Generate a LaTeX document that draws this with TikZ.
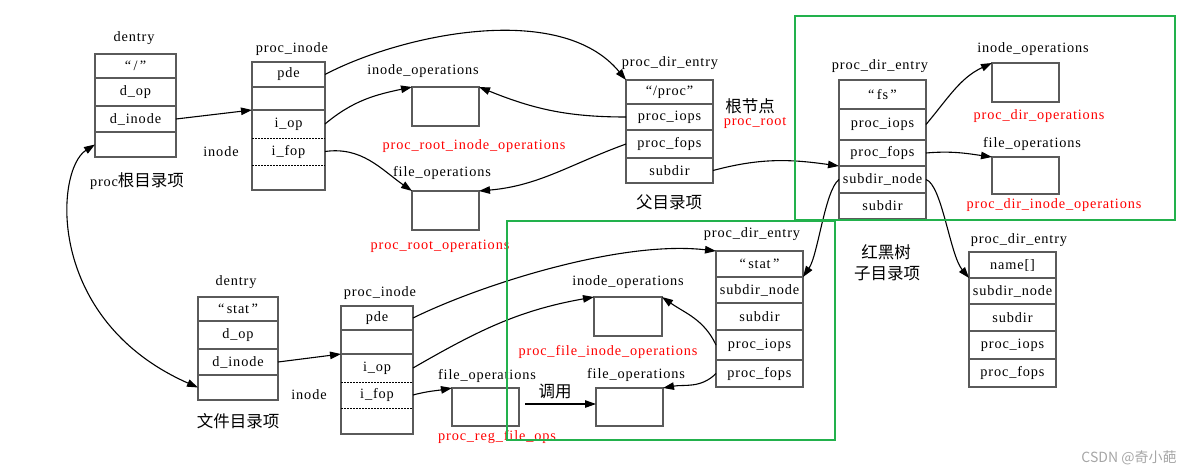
\documentclass[tikz,border=0pt]{standalone}
\usepackage{fontspec}
\setmainfont{Liberation Serif}[LetterSpace=6]
\newfontfamily\cjk{Noto Sans CJK SC}
\usetikzlibrary{arrows.meta}
\definecolor{linegray}{RGB}{90,90,90}
\definecolor{paintgreen}{RGB}{34,177,76}
\newcommand\mkcell[7][cellbox]{\node[#1, minimum width={#4pt-#3pt}, minimum height={#6pt-#5pt}] (#2) at ({(#3+#4)/2},{(#5+#6)/2}) {#7};}
\tikzset{
  every node/.style={font=\fontsize{14.3}{16}\selectfont},
  cellbox/.style={draw=linegray, line width=1.1pt, inner sep=0pt, outer sep=0pt},
  cellnd/.style={inner sep=0pt, outer sep=0pt},
  frame/.style={draw=linegray, line width=1.1pt},
  dotline/.style={draw=black, line width=1pt, dash pattern=on 1.5pt off 1.5pt},
  lbl/.style={inner sep=1pt},
  redlbl/.style={inner sep=1pt, text=red},
  cjklbl/.style={inner sep=1pt, font=\cjk\fontsize{16.5}{18}\selectfont},
  arr/.style={-{Triangle[length=11pt,width=7.5pt]}, line width=1.1pt, black},
  biarr/.style={{Triangle[length=11pt,width=7.5pt]}-{Triangle[length=11pt,width=7.5pt]}, line width=1.1pt, black},
  greenbox/.style={draw=paintgreen, line width=2pt}
}
\begin{document}
\begin{tikzpicture}[x=1pt,y=-1pt]
\useasboundingbox (0,0) rectangle (1194,474);
% ---------- top-left dentry
\mkcell{d1a}{95}{176}{54}{78}{“\,/\,”}
\mkcell{d1b}{95}{176}{78}{106}{d\_op}
\mkcell{d1c}{95}{176}{106}{132}{d\_inode}
\mkcell{d1d}{95}{176}{132}{157}{}
\node[lbl] (d1t) at (134,38) {dentry};
\node[lbl] (d1n) at (137,181) {proc{\cjk\fontsize{16.5}{18}\selectfont 根目录项}};
% ---------- top proc_inode
\mkcell[cellnd]{p1a}{252}{325}{62}{87}{pde}
\mkcell[cellnd]{p1b}{252}{325}{87}{110}{}
\mkcell[cellnd]{p1c}{252}{325}{110}{138}{i\_op}
\mkcell[cellnd]{p1d}{252}{325}{138}{165}{i\_fop}
\mkcell[cellnd]{p1e}{252}{325}{165}{190}{}
\draw[frame] (p1a.north west) rectangle (p1e.south east);
\draw[frame] (p1a.south west) -- (p1a.south east);
\draw[frame] (p1b.south west) -- (p1b.south east);
\draw[dotline] (p1c.south west) -- (p1c.south east);
\draw[dotline] (p1d.south west) -- (p1d.south east);
\node[lbl] (p1t) at (292,49) {proc\_inode};
\node[lbl] (p1n) at (221,152) {inode};
% ---------- top ops boxes
\mkcell{io1}{412}{479}{87}{126}{}
\mkcell{fo1}{412}{479}{191}{230}{}
\node[lbl] (io1t) at (423,71) {inode\_operations};
\node[redlbl] (io1n) at (474,146) {proc\_root\_inode\_operations};
\node[lbl] (fo1t) at (442,173) {file\_operations};
\node[redlbl] (fo1n) at (440,246) {proc\_root\_operations};
% ---------- /proc proc_dir_entry
\mkcell{q1a}{626}{713}{80}{104}{“/proc”}
\mkcell{q1b}{626}{713}{104}{130}{proc\_iops}
\mkcell{q1c}{626}{713}{130}{158}{proc\_fops}
\mkcell{q1d}{626}{713}{158}{183}{subdir}
\node[lbl] (q1t) at (670,63) {proc\_dir\_entry};
\node[cjklbl] (q1n) at (669,202) {父目录项};
\node[cjklbl] (rootn) at (750,106) {根节点};
\node[redlbl] (rootr) at (755,123) {proc\_root};
% ---------- fs proc_dir_entry
\mkcell{fsa}{839}{926}{80}{109}{“\,fs\,”}
\mkcell{fsb}{839}{926}{109}{140}{proc\_iops}
\mkcell{fsc}{839}{926}{140}{166}{proc\_fops}
\mkcell{fsd}{839}{926}{166}{193}{subdir\_node}
\mkcell{fse}{839}{926}{193}{219}{subdir}
\node[lbl] (fst) at (880,66) {proc\_dir\_entry};
\mkcell{io2}{992}{1059}{63}{102}{}
\mkcell{fo2}{992}{1059}{157}{194}{}
\node[lbl] (io2t) at (1033,49) {inode\_operations};
\node[redlbl] (io2n) at (1039,116) {proc\_dir\_operations};
\node[lbl] (fo2t) at (1032,144) {file\_operations};
\node[redlbl] (fo2n) at (1054,205) {proc\_dir\_inode\_operations};
% ---------- stat proc_dir_entry
\mkcell{sta}{716}{803}{251}{277}{“\,stat\,”}
\mkcell{stb}{716}{803}{277}{303}{subdir\_node}
\mkcell{stc}{716}{803}{303}{330}{subdir}
\mkcell{std}{716}{803}{330}{360}{proc\_iops}
\mkcell{ste}{716}{803}{360}{387}{proc\_fops}
\node[lbl] (stt) at (752,234) {proc\_dir\_entry};
\node[cjklbl] (rbt1) at (886,252) {红黑树};
\node[cjklbl] (rbt2) at (887,274) {子目录项};
% ---------- name[] proc_dir_entry
\mkcell{nma}{969}{1056}{252}{278}{name[]}
\mkcell{nmb}{969}{1056}{278}{304}{subdir\_node}
\mkcell{nmc}{969}{1056}{304}{331}{subdir}
\mkcell{nmd}{969}{1056}{331}{359}{proc\_iops}
\mkcell{nme}{969}{1056}{359}{387}{proc\_fops}
\node[lbl] (nmt) at (1019,240) {proc\_dir\_entry};
% ---------- bottom dentry
\mkcell{d2a}{198}{278}{297}{321}{“\,stat\,”}
\mkcell{d2b}{198}{278}{321}{349}{d\_op}
\mkcell{d2c}{198}{278}{349}{375}{d\_inode}
\mkcell{d2d}{198}{278}{375}{400}{}
\node[lbl] (d2t) at (236,282) {dentry};
\node[cjklbl] (d2n) at (238,421) {文件目录项};
\node[lbl] (p2n) at (309,395) {inode};
% ---------- bottom proc_inode
\mkcell[cellnd]{p2a}{341}{413}{306}{330}{pde}
\mkcell[cellnd]{p2b}{341}{413}{330}{354}{}
\mkcell[cellnd]{p2c}{341}{413}{354}{382}{i\_op}
\mkcell[cellnd]{p2d}{341}{413}{382}{408}{i\_fop}
\mkcell[cellnd]{p2e}{341}{413}{408}{434}{}
\draw[frame] (p2a.north west) rectangle (p2e.south east);
\draw[frame] (p2a.south west) -- (p2a.south east);
\draw[frame] (p2b.south west) -- (p2b.south east);
\draw[dotline] (p2c.south west) -- (p2c.south east);
\draw[dotline] (p2d.south west) -- (p2d.south east);
\node[lbl] (p2t) at (380,293) {proc\_inode};
% ---------- bottom ops boxes
\mkcell{io3}{594}{662}{297}{336}{}
\mkcell{rf}{452}{519}{388}{426}{}
\mkcell{fo3}{596}{663}{388}{426}{}
\node[lbl] (io3t) at (628,282) {inode\_operations};
\node[redlbl] (io3n) at (608,352) {proc\_file\_inode\_operations};
\node[lbl] (rft) at (487,376) {file\_operations};
\node[redlbl] (rfn) at (497,437) {proc\_reg\_file\_ops};
\node[lbl] (fo3t) at (636,375) {file\_operations};
\node[cjklbl] (call) at (555,391) {调用};
% ---------- connectors
\draw[arr] (d1c.east) -- (p1c.north west);
\draw[arr] (p1a.east) .. controls (400,35) and (560,0) .. (q1a.north west);
\draw[arr] (p1c.east) to[out=40,in=192] (io1.north west);
\draw[arr] (p1d.east) to[out=8,in=145] (fo1.north west);
\draw[arr] (q1b.west) to[out=180,in=-22] (io1.north east);
\draw[arr] (q1c.west) to[out=200,in=5] (fo1.north east);
\draw[arr] (q1d.east) to[out=15,in=172] (fsd.north west);
\draw[arr] (fsb.east) to[out=50,in=205] (io2.north west);
\draw[arr] (fsc.east) to[out=5,in=172] (fo2.north west);
\draw[arr] (fsd.east) .. controls (942,185) and (950,255) .. (nmb.north west);
\draw[arr] (fsd.west) .. controls (825,190) and (818,255) .. (stb.north east);
\draw[biarr] (d1d.west) .. controls (55,170) and (45,320) .. (d2d.west);
\draw[arr] (d2c.east) -- (p2c.north west);
\draw[arr] (p2a.east) .. controls (480,285) and (620,240) .. (sta.north west);
\draw[arr] (p2c.east) to[out=30,in=190] (io3.north west);
\draw[arr] (p2d.east) to[out=15,in=190] (rf.north west);
\draw[arr] ([xshift=6pt,yshift=3pt]rf.east) -- ([yshift=3pt]fo3.west);
\draw[arr] (std.west) to[out=115,in=-35] (io3.north east);
\draw[arr] (ste.west) to[out=225,in=10] (fo3.north east);
% ---------- green frames
\draw[greenbox] (795,16) rectangle (1175,220);
\draw[greenbox] (507,221) rectangle (835,440);
% ---------- watermark
\node[inner sep=0pt, text=gray!70, font=\cjk\fontsize{14}{16}\selectfont] (wm) at (1129,458) {CSDN @奇小葩};
\end{tikzpicture}
\end{document}
